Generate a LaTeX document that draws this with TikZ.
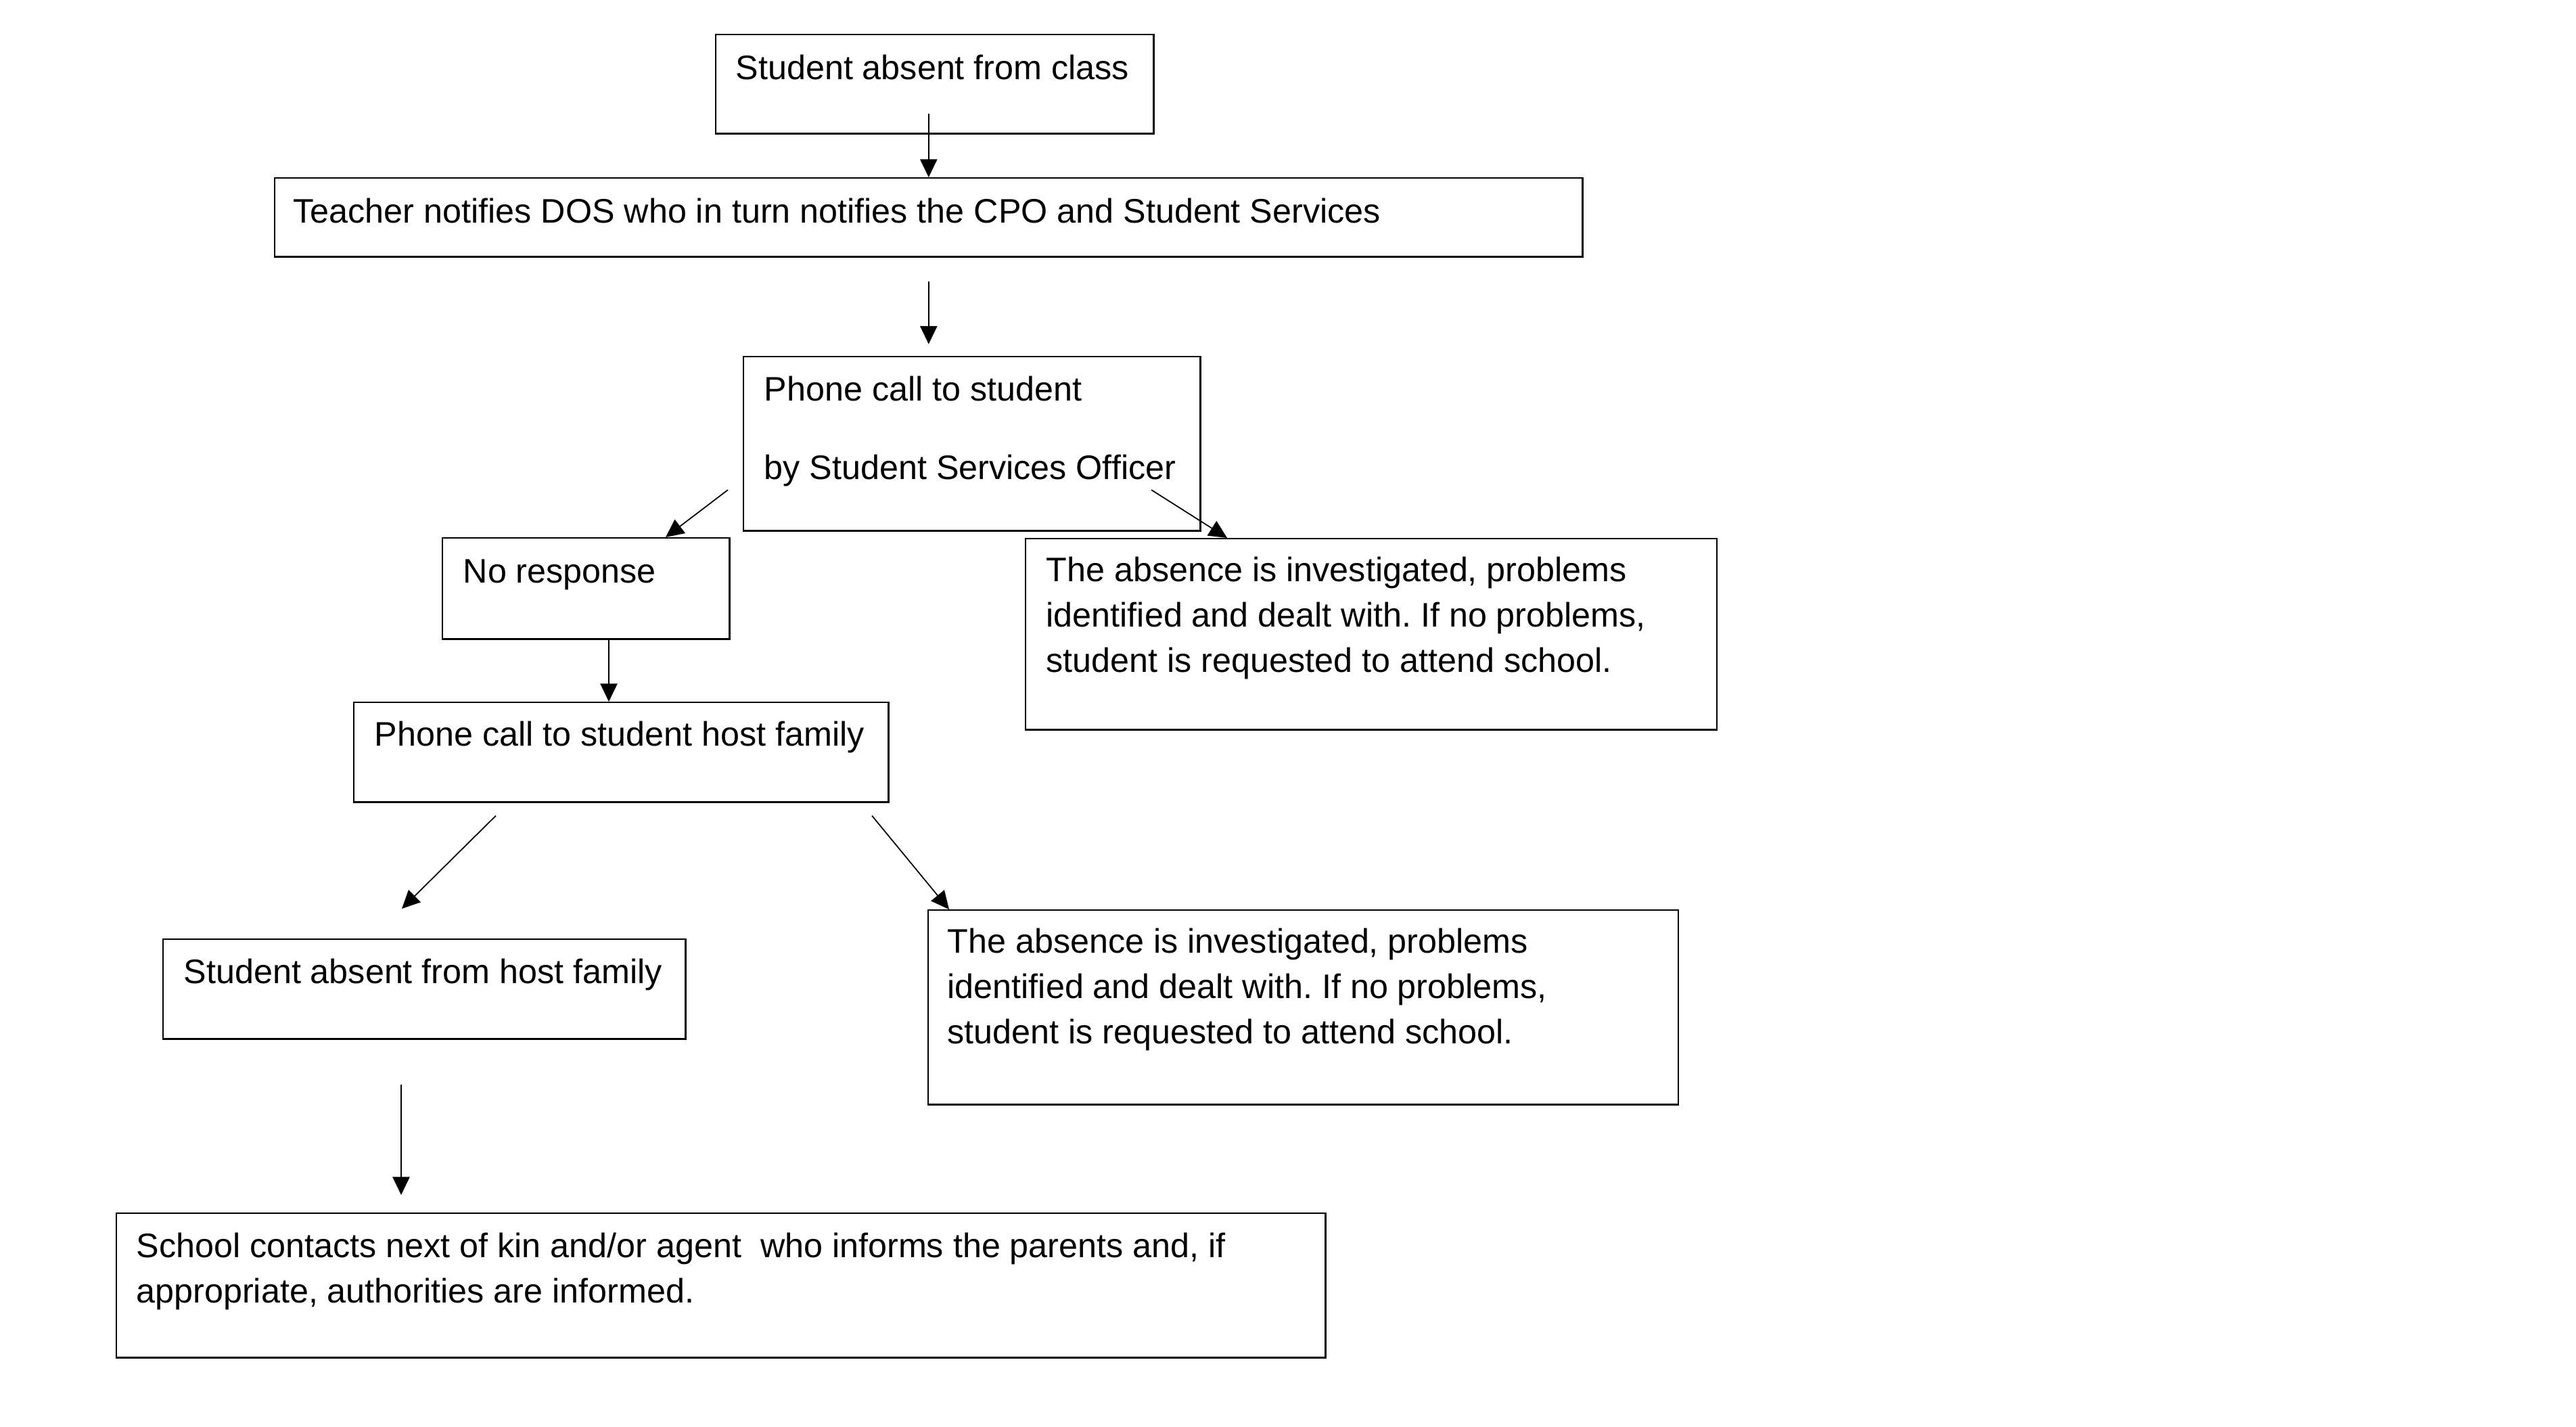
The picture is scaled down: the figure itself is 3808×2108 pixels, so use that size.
\documentclass[tikz,border=0pt]{standalone}
\usepackage{fontspec}
\setmainfont{Liberation Sans}
\frenchspacing
\usetikzlibrary{arrows.meta,positioning}

\begin{document}
\begin{tikzpicture}[x=0.01cm,y=-0.01cm,
		flowbox/.style={draw,line width=0.7pt,anchor=north west,inner sep=0pt},
		flowtext/.style={anchor=base west,inner sep=0pt,align=left,font=\fontsize{14.3pt}{19.1pt}\selectfont},
		flow/.style={line width=0.5pt,-{Triangle[length=7.6pt,width=7.2pt]}}]
	\useasboundingbox (0,0) rectangle (3808,2108);
	% boxes
	\node[flowbox,minimum width=6.47cm,minimum height=1.46cm] (absent) at (1057,50) {};
	\node[flowbox,minimum width=19.32cm,minimum height=1.16cm] (notify) at (405,262) {};
	\node[flowbox,minimum width=6.75cm,minimum height=2.57cm] (phone) at (1098,526) {};
	\node[flowbox,minimum width=4.24cm,minimum height=1.49cm] (noresp) at (653,794) {};
	\node[flowbox,minimum width=10.21cm,minimum height=2.82cm] (invest) at (1515,795) {};
	\node[flowbox,minimum width=7.90cm,minimum height=1.47cm] (hostcall) at (522,1037) {};
	\node[flowbox,minimum width=11.08cm,minimum height=2.87cm] (investhost) at (1371,1344) {};
	\node[flowbox,minimum width=7.72cm,minimum height=1.47cm] (hostabs) at (240,1387) {};
	\node[flowbox,minimum width=17.86cm,minimum height=2.13cm] (kin) at (171,1792) {};
	% texts (base is the last line, so shift multi-line ones down)
	\node[flowtext] (absent-t) at ([shift={(30,67)}]absent.north west) {Student absent from class};
	\node[flowtext] (notify-t) at ([shift={(28,67)}]notify.north west) {Teacher notifies DOS who in turn notifies the CPO and Student Services};
	\node[flowtext,yshift=-19.1pt-0.49cm] (phone-t) at ([shift={(31,66)}]phone.north west) {Phone call to student\\[0.49cm]by Student Services Officer};
	\node[flowtext] (noresp-t) at ([shift={(31,67)}]noresp.north west) {No response};
	\node[flowtext,yshift=-38.2pt] (invest-t) at ([shift={(31,64)}]invest.north west) {The absence is investigated, problems\\identified and dealt with. If no problems,\\student is requested to attend school.};
	\node[flowtext] (hostcall-t) at ([shift={(31,65)}]hostcall.north west) {Phone call to student host family};
	\node[flowtext,yshift=-38.2pt] (investhost-t) at ([shift={(29,64)}]investhost.north west) {The absence is investigated, problems\\identified and dealt with. If no problems,\\student is requested to attend school.};
	\node[flowtext] (hostabs-t) at ([shift={(31,66)}]hostabs.north west) {Student absent from host family};
	\node[flowtext,yshift=-19.1pt] (kin-t) at ([shift={(30,66)}]kin.north west) {School contacts next of kin and/or agent~ who informs the parents and, if\\appropriate, authorities are informed.};
	% arrows
	\draw[flow] ([shift={(0,-94)}]notify.north) -- (notify.north);
	\draw[flow] ([shift={(0,35)}]notify.south) -- ([shift={(0,128)}]notify.south);
	\draw[flow] ([shift={(-22,198)}]phone.north west) -- ([shift={(331,0)}]noresp.north west);
	\draw[flow] ([shift={(604,198)}]phone.north west) -- ([shift={(299,0)}]invest.north west);
	\draw[flow] ([shift={(247,0)}]noresp.south west) -- ([shift={(378,0)}]hostcall.north west);
	\draw[flow] ([shift={(211,19)}]hostcall.south west) -- ([shift={(354,-44)}]hostabs.north west);
	\draw[flow] ([shift={(767,19)}]hostcall.south west) -- ([shift={(32,0)}]investhost.north west);
	\draw[flow] ([shift={(353,66)}]hostabs.south west) -- ([shift={(422,-26)}]kin.north west);
\end{tikzpicture}
\end{document}
